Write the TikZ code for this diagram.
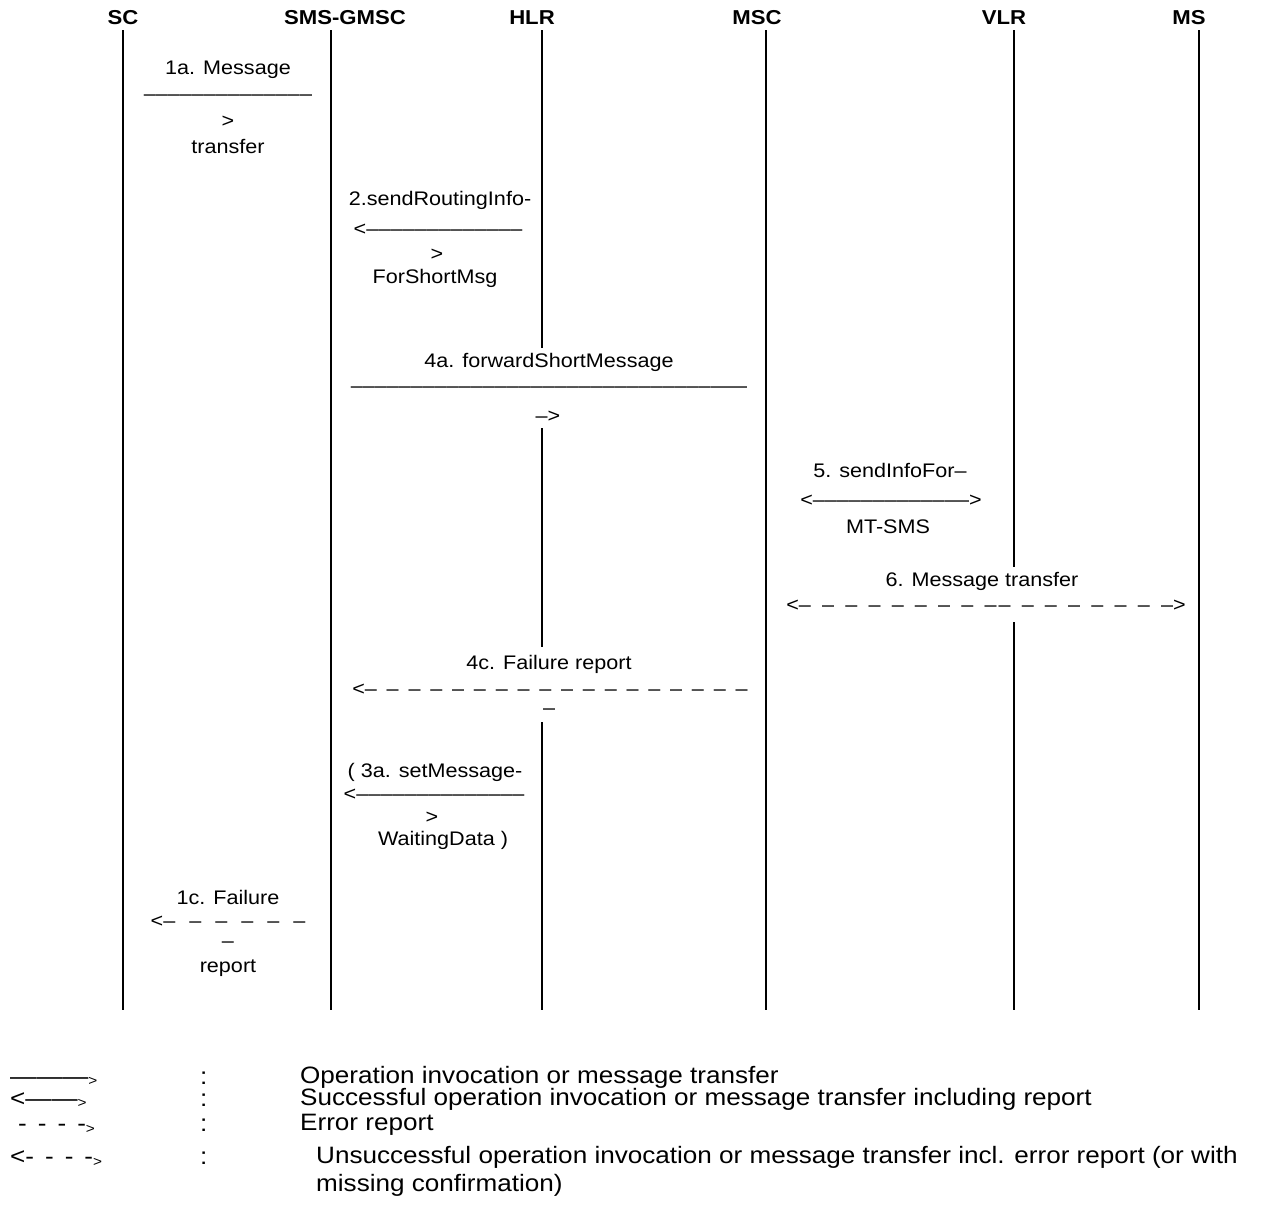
\documentclass[tikz,border=0pt]{standalone}
\usepackage{fontspec}
\setmainfont{Liberation Sans}[FakeStretch=1.1]
\newcommand{\dashrun}[2]{\foreach \i in {1,...,#1}{\hspace{#2}–}}
\begin{document}
\begin{tikzpicture}[x=1bp,y=-1bp,
  hdr/.style={font=\bfseries\fontsize{20.2}{22}\selectfont, inner sep=0pt},
  msg/.style={font=\fontsize{19.7}{22}\selectfont, inner sep=0pt, anchor=center},
  leg/.style={font=\fontsize{23.8}{26}\selectfont, inner sep=0pt, anchor=base west},
  legsym/.style={font=\fontsize{23.8}{26}\selectfont, inner sep=0pt, anchor=base west},
  life/.style={line width=2.2bp, black}]
\fill[white] (0,0) rectangle (1263,1207);
\useasboundingbox (0,0) rectangle (1263,1207);

% headers and lifeline ends
\foreach \n/\x/\lx/\lab in {sc/123/123/SC, gmsc/331/345/SMS-GMSC, hlr/542/532/HLR, msc/766/757/MSC, vlr/1014/1004/VLR, ms/1199/1189/MS} {
  \node[hdr] (h\n) at (\lx,18) {\lab};
  \coordinate (\n Top) at (\x,30);
  \coordinate (\n Bot) at (\x,1010);
}
\coordinate (hlr1) at (542,348);
\coordinate (hlr2) at (542,428);
\coordinate (hlr3) at (542,647);
\coordinate (hlr4) at (542,722);
\coordinate (vlr1) at (1014,567);
\coordinate (vlr2) at (1014,622);

\draw[life] (scTop) -- (scBot);
\draw[life] (gmscTop) -- (gmscBot);
\draw[life] (hlrTop) -- (hlr1) (hlr2) -- (hlr3) (hlr4) -- (hlrBot);
\draw[life] (mscTop) -- (mscBot);
\draw[life] (vlrTop) -- (vlr1) (vlr2) -- (vlrBot);
\draw[life] (msTop) -- (msBot);

% 1a
\node[msg] (m1a) at (228,70) {1a. Message};
\node[msg] (m1b) at (228,98) {––––––––––––––};
\node[msg] (m1c) at (228,122) {>};
\node[msg] (m1d) at (228,146) {transfer};
% 2
\node[msg] (m2a) at (440,200) {2.sendRoutingInfo-};
\node[msg] (m2b) at (438,230) {<–––––––––––––};
\node[msg] (m2c) at (437,255) {>};
\node[msg] (m2d) at (435,278) {ForShortMsg};
% 4a
\node[msg] (m4a) at (549,362) {4a. forwardShortMessage};
\node[msg] (m4b) at (549,390) {\dashrun{33}{0pt}};
\node[msg] (m4c) at (548,417) {–>};
% 5
\node[msg] (m5a) at (890,470) {5. sendInfoFor–};
\node[msg] (m5b) at (891,501) {<–––––––––––––>};
\node[msg] (m5c) at (888,527) {MT-SMS};
% 6
\node[msg] (m6a) at (982,581) {6. Message transfer};
\node[msg] (m6b) at (986,606) {<–\dashrun{7}{11.2bp}\hspace{11.2bp}–\hspace{2bp}–\dashrun{6}{11.2bp}\hspace{11.2bp}–>};
% 4c
\node[msg] (m4ca) at (549,664) {4c. Failure report};
\node[msg] (m4cb) at (550,690) {<–\dashrun{17}{9.8bp}};
\node[msg] (m4cc) at (549,712) {–};
% 3a
\node[msg] (m3a) at (435,772) {( 3a. setMessage-};
\node[msg] (m3b) at (434,795) {<––––––––––––––};
\node[msg] (m3c) at (432,818) {>};
\node[msg] (m3d) at (443,840) {WaitingData )};
% 1c
\node[msg] (m1ca) at (228,897) {1c. Failure};
\node[msg] (m1cb) at (228,922) {<–\dashrun{5}{14bp}};
\node[msg] (m1cc) at (228,945) {–};
\node[msg] (m1cd) at (228,968) {report};

% legend
\node[legsym] (s1) at (10,1084) {———\raisebox{-1bp}{\fontsize{14}{14}\selectfont >}};
\node[legsym] (s2) at (10,1106) {<——\raisebox{-1bp}{\fontsize{14}{14}\selectfont >}};
\node[legsym] (s3) at (18,1131) {-\hspace{11bp}-\hspace{11bp}-\hspace{11bp}-\raisebox{-2bp}{\fontsize{14}{14}\selectfont >}};
\node[legsym] (s4) at (10,1164) {<-\hspace{11bp}-\hspace{11bp}-\hspace{11bp}-\raisebox{-2bp}{\fontsize{14}{14}\selectfont >}};
\node[leg] (c1) at (200,1084) {:};
\node[leg] (c2) at (200,1106) {:};
\node[leg] (c3) at (200,1131) {:};
\node[leg] (c4) at (200,1164) {:};
\node[leg] (l1) at (300,1083) {Operation invocation or message transfer};
\node[leg] (l2) at (300,1105) {Successful operation invocation or message transfer including report};
\node[leg] (l3) at (300,1130) {Error report};
\node[leg] (l4) at (316,1163) {Unsuccessful operation invocation or message transfer incl. error report (or with};
\node[leg] (l5) at (316,1191) {missing confirmation)};
\end{tikzpicture}
\end{document}
